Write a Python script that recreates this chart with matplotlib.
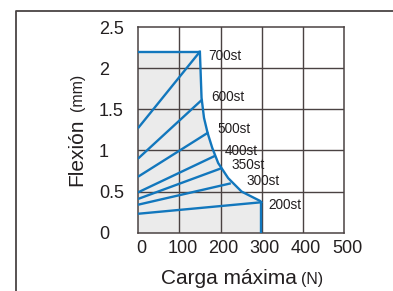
import matplotlib
matplotlib.use("Agg")
import matplotlib.pyplot as plt
from matplotlib.lines import Line2D
from matplotlib.transforms import ScaledTranslation

plt.rcParams['font.family'] = ['Liberation Sans', 'DejaVu Sans']

# ---- data ----
strokes = ["700st", "600st", "500st", "400st", "350st", "300st", "200st"]
start_y = [1.27, 0.90, 0.68, 0.49, 0.41, 0.34, 0.23]      # deflection at 0 N
end_x = [150, 156, 171, 187, 203, 225, 299]               # max load (N)
end_y = [2.20, 1.62, 1.22, 0.935, 0.785, 0.60, 0.37]      # deflection at max load
top_y = 2.20
curve_x = [150, 151.7, 154, 160, 168.7, 180, 194.4, 218.6, 251, 296, 299]
curve_y = [2.20, 1.963, 1.64, 1.395, 1.212, 1.03, 0.846, 0.663, 0.50, 0.386, 0.37]
xticks = [0, 100, 200, 300, 400, 500]
yticks = [0, 0.5, 1, 1.5, 2, 2.5]
ytick_labels = ["0", "0.5", "1", "1.5", "2", "2.5"]

# label offsets in pixels (style)
label_off = [(8, -4), (9, 2), (9, 3), (10, 5), (10, 3), (16, 2), (7, -3)]

W, H = 393, 291
fig = plt.figure(figsize=(W / 100, H / 100), dpi=100)
L, R, T, B = 138, 344.3, 27, 232.7
ax = fig.add_axes([L / W, 1 - B / H, (R - L) / W, (B - T) / H])

grid_c = '#4a4242'
blue = '#1277bd'
fill_c = '#ebebeb'

# shaded region
poly_x = [0, 0, curve_x[0]] + curve_x + [curve_x[-1]]
poly_y = [0, top_y, top_y] + curve_y + [0]
ax.fill(poly_x, poly_y, color=fill_c, zorder=0, lw=0)

ax.set_xlim(0, 500)
ax.set_ylim(0, 2.5)

# grid
for x in xticks[1:-1]:
    ax.axvline(x, color=grid_c, lw=1.0, zorder=1)
for y in yticks[1:-1]:
    ax.axhline(y, color=grid_c, lw=1.0, zorder=1)

# blue lines
lw_b = 1.7
ax.plot([0, curve_x[0]], [top_y, top_y], color=blue, lw=lw_b, zorder=3, solid_capstyle='butt')
ax.plot(curve_x, curve_y, color=blue, lw=lw_b, zorder=3)
ax.plot([curve_x[-1], curve_x[-1]], [curve_y[-1], 0], color=blue, lw=lw_b, zorder=3, solid_capstyle='butt')
for s, y0, x1, y1, off in zip(strokes, start_y, end_x, end_y, label_off):
    ax.plot([0, x1], [y0, y1], color=blue, lw=lw_b, zorder=3, solid_capstyle='butt')
    ax.annotate(s, (x1, y1), xytext=(off[0] * 0.72, off[1] * 0.72), textcoords='offset points',
                ha='left', va='center', fontsize=9.8, color='#231f20', zorder=4)

for sp in ax.spines.values():
    sp.set_color(grid_c)
    sp.set_linewidth(1.1)

ax.set_xticks(xticks)
ax.set_xticklabels([str(v) for v in xticks])
ax.set_yticks(yticks)
ax.set_yticklabels(ytick_labels)
ax.set_xticks([100, 300, 500], minor=True)
ax.set_yticks([0.5, 1.5, 2.5], minor=True)
ax.tick_params(which='major', length=0, labelsize=13, colors='#231f20')
ax.tick_params(axis='x', which='major', pad=5)
ax.tick_params(axis='y', which='major', pad=28)
ax.tick_params(which='minor', length=5.5, width=1.1, color=grid_c, direction='out')
for lab in ax.get_yticklabels():
    lab.set_horizontalalignment('left')
for lab in ax.get_xticklabels():
    lab.set_transform(lab.get_transform() + ScaledTranslation(3 / 100, 0, fig.dpi_scale_trans))

# axis labels
txt_c = '#231f20'
fig.text(297 / W, 1 - 284 / H, "Carga máxima", fontsize=15, ha='right', va='baseline', color=txt_c)
fig.text(301 / W, 1 - 284 / H, "(N)", fontsize=11.5, ha='left', va='baseline', color=txt_c)
fig.text(82 / W, 1 - 186 / H, "Flexión", fontsize=15, ha='left', va='baseline', rotation=90,
         rotation_mode='anchor', color=txt_c)
fig.text(82 / W, 1 - 74 / H, "(mm)", fontsize=11.5, ha='right', va='baseline', rotation=90,
         rotation_mode='anchor', color=txt_c)

# outer frame
fc = '#4a4444'
fig.add_artist(Line2D([16 / W, 16 / W, 1.0], [0, 1 - 11 / H, 1 - 11 / H],
                      transform=fig.transFigure, color=fc, lw=1.3))

fig.savefig("out.png", dpi=100)
